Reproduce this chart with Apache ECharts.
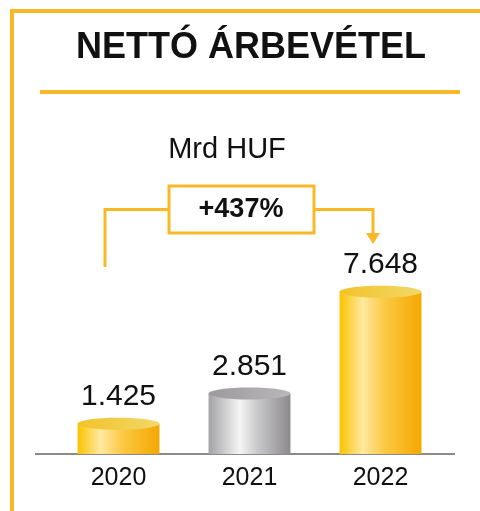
<!DOCTYPE html>
<html lang="hu">
<head>
<meta charset="UTF-8" />
<title>Nettó árbevétel</title>
<style>
  html, body { margin: 0; padding: 0; background: #fff; }
  #chart { width: 480px; height: 511px; }
</style>
</head>
<body>
<div id="chart"></div>
<script src="https://cdn.jsdelivr.net/npm/echarts@6/dist/echarts.min.js"></script>
<script>
var years = ['2020', '2021', '2022'];
var revenue = [1.425, 2.851, 7.648];
var revenueLabels = ['1.425', '2.851', '7.648'];
var growthText = '+437%';

var gold = '#F9B827';
var font = 'Liberation Sans, Arial, sans-serif';

// arany és ezüst henger színek
var bodyColors = [
  [[0, '#F9C300'], [0.28, '#FFE8A0'], [0.55, '#FBC943'], [1, '#F4A700']],
  [[0, '#A3A1A4'], [0.38, '#F5F5F5'], [0.6, '#C9C8CA'], [1, '#8C898C']],
  [[0, '#F9C300'], [0.28, '#FFE8A0'], [0.55, '#FBC943'], [1, '#F4A700']]
];
var topColors = [
  [[0, '#F3C22A'], [1, '#F1D868']],
  [[0, '#9C9A9D'], [1, '#B9B7BA']],
  [[0, '#F3C22A'], [1, '#F1D868']]
];

function renderCylinder(params, api) {
  var i = params.dataIndex;
  var top = api.coord([api.value(0), api.value(1)]);
  var base = api.coord([api.value(0), 0]);
  var w = api.size([1, 0])[0] * 0.625;
  var rx = w / 2, ry = 6;
  return {
    type: 'group',
    children: [
      {
        type: 'rect',
        shape: { x: top[0] - rx, y: top[1], width: w, height: base[1] - top[1] },
        style: { fill: new echarts.graphic.LinearGradient(0, 0, 1, 0, bodyColors[i].map(function (s) { return { offset: s[0], color: s[1] }; })) }
      },
      {
        type: 'ellipse',
        shape: { cx: top[0], cy: top[1], rx: rx, ry: ry },
        style: { fill: new echarts.graphic.LinearGradient(0, 0, 1, 0, topColors[i].map(function (s) { return { offset: s[0], color: s[1] }; })) }
      },
      {
        type: 'text',
        style: {
          text: revenueLabels[i], x: top[0], y: top[1] - 27,
          align: 'center', verticalAlign: 'middle',
          fontSize: 30, fontFamily: font, fill: '#111'
        }
      }
    ]
  };
}

var chart = echarts.init(document.getElementById('chart'));
chart.setOption({
  animation: false,
  grid: { left: 53, right: 34, top: 242, bottom: 57 },
  xAxis: {
    type: 'category',
    data: years,
    axisLine: { show: false },
    axisTick: { show: false },
    axisLabel: { fontSize: 25, fontFamily: font, color: '#111', margin: 12 }
  },
  yAxis: { type: 'value', min: 0, max: 10, show: false },
  series: [{
    type: 'custom',
    renderItem: renderCylinder,
    data: revenue.map(function (v, i) { return [i, v]; }),
    z: 3
  }],
  graphic: [
    // keret
    { type: 'rect', shape: { x: 10, y: 9, width: 470, height: 4 }, style: { fill: gold } },
    { type: 'rect', shape: { x: 10, y: 9, width: 4, height: 502 }, style: { fill: gold } },
    { type: 'text', style: { text: 'NETTÓ ÁRBEVÉTEL', x: 251, y: 48, align: 'center', verticalAlign: 'middle', fontSize: 36, fontWeight: 'bold', fontFamily: font, fill: '#111' } },
    { type: 'rect', shape: { x: 40, y: 90, width: 420, height: 4 }, style: { fill: gold } },
    { type: 'text', style: { text: 'Mrd HUF', x: 227, y: 150, align: 'center', verticalAlign: 'middle', fontSize: 29, fontFamily: font, fill: '#111' } },
    // alapvonal
    { type: 'line', shape: { x1: 35, y1: 454, x2: 455, y2: 454 }, style: { stroke: '#8a8a8a', lineWidth: 2 } },
    // növekedés nyíl
    { type: 'polyline', shape: { points: [[105, 267], [105, 209.5], [168, 209.5]] }, style: { stroke: gold, lineWidth: 3, fill: null } },
    { type: 'polyline', shape: { points: [[315, 209.5], [373, 209.5], [373, 235]] }, style: { stroke: gold, lineWidth: 3, fill: null } },
    { type: 'polygon', shape: { points: [[366, 233], [380, 233], [373, 244]] }, style: { fill: gold } },
    { type: 'rect', shape: { x: 169, y: 186, width: 145, height: 47 }, style: { stroke: gold, lineWidth: 3, fill: '#fff' } },
    { type: 'text', style: { text: growthText, x: 241, y: 210, align: 'center', verticalAlign: 'middle', fontSize: 27, fontWeight: 'bold', fontFamily: font, fill: '#111' } }
  ]
});
</script>
</body>
</html>
